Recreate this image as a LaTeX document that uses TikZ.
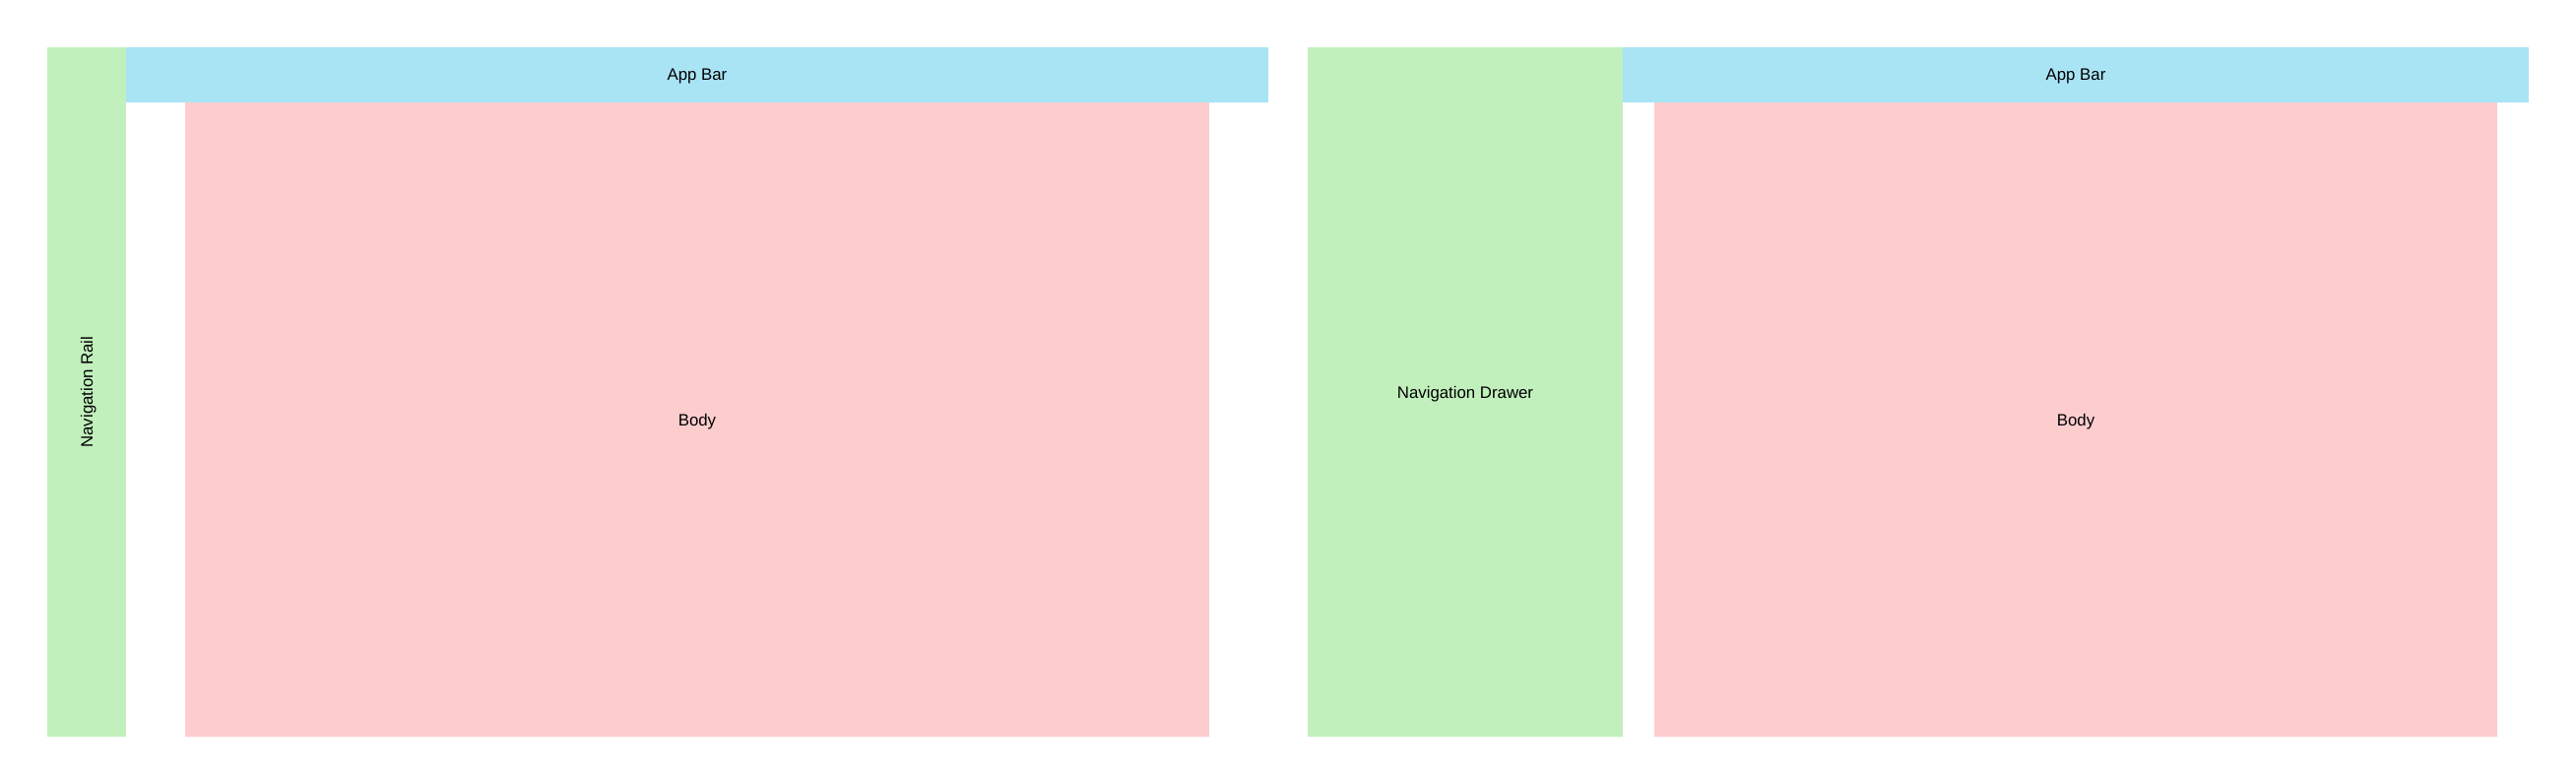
\documentclass[tikz,border=0pt]{standalone}
\usepackage{fontspec}
\setmainfont{Liberation Sans}
\definecolor{navgreen}{HTML}{C2F0BD}
\definecolor{barblue}{HTML}{A9E4F5}
\definecolor{bodypink}{HTML}{FDCDCE}
\begin{document}
\begin{tikzpicture}[line join=bevel,
  area/.style={draw=none,inner sep=0pt,outer sep=0pt,text depth=0pt,font=\fontsize{8.4bp}{10bp}\selectfont},
  navarea/.style={area,fill=navgreen},
  bararea/.style={area,fill=barblue},
  bodyarea/.style={area,fill=bodypink},]
%%
\useasboundingbox (0bp,0bp) rectangle (1308bp,398bp);
%% rail layout
\node (rail) at (44bp,199bp) [navarea,rotate=90,minimum width=350bp,minimum height=40bp] {Navigation Rail};
  \node (railbar) at (354bp,360bp) [bararea,minimum width=580bp,minimum height=28bp] {App Bar};
  \node (railbody) at (354bp,185bp) [bodyarea,minimum width=520bp,minimum height=322bp] {Body};
%% drawer layout
\node (drawer) at (744bp,199bp) [navarea,minimum width=160bp,minimum height=350bp] {Navigation Drawer};
  \node (drawerbar) at (1054bp,360bp) [bararea,minimum width=460bp,minimum height=28bp] {App Bar};
  \node (drawerbody) at (1054bp,185bp) [bodyarea,minimum width=428bp,minimum height=322bp] {Body};
%
\end{tikzpicture}
\end{document}
